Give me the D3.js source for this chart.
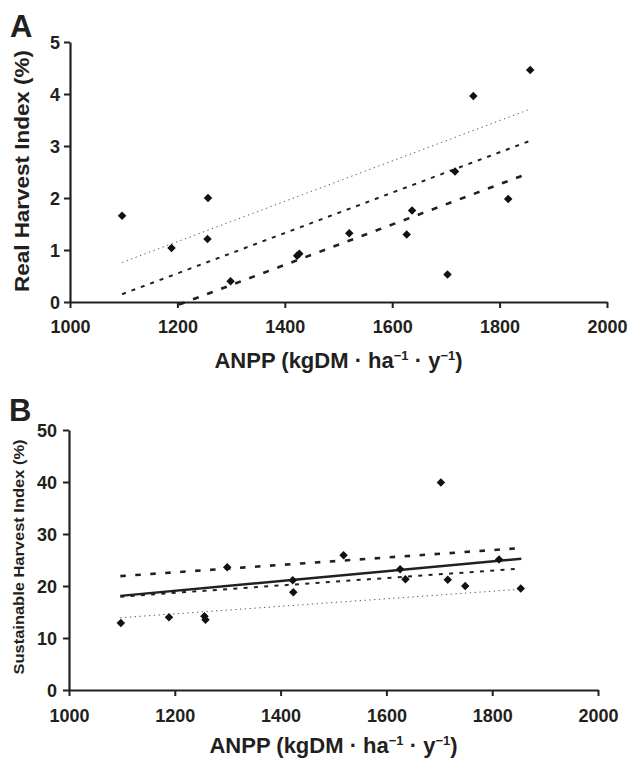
<!DOCTYPE html>
<html>
<head>
<meta charset="utf-8">
<script src="https://cdn.jsdelivr.net/npm/d3@7"></script>
<style>
  html, body { margin: 0; padding: 0; background: #fff; }
  svg { display: block; }
  text { font-family: "Liberation Sans", Arial, Helvetica, sans-serif; font-weight: bold; fill: #231f20; }
</style>
</head>
<body>
<script>
// ---------- DATA ----------
const xTicks = [1000, 1200, 1400, 1600, 1800, 2000];
const yTicksA = [0, 1, 2, 3, 4, 5];
const yTicksB = [0, 10, 20, 30, 40, 50];

// Panel A: Real Harvest Index (%)
const anppA = [1097, 1189, 1257, 1256, 1299, 1423, 1427, 1520, 1627, 1637, 1703, 1717, 1751, 1816, 1857];
const rhiA  = [1.66, 1.04, 2.00, 1.21, 0.40, 0.89, 0.93, 1.32, 1.30, 1.76, 0.53, 2.51, 3.96, 1.98, 4.46];

// Panel A fitted lines (endpoints)
const lineAdottedX = [1097, 1857], lineAdottedY = [0.76, 3.71];
const lineAshortX  = [1097, 1857], lineAshortY  = [0.15, 3.10];
const lineAlongX   = [1203, 1845], lineAlongY   = [-0.05, 2.44];

// Panel B: Sustainable Harvest Index (%)
const anppB = [1098, 1189, 1256, 1258, 1299, 1423, 1424, 1519, 1626, 1636, 1703, 1716, 1749, 1813, 1854];
const shiB  = [12.9, 14.0, 14.2, 13.5, 23.6, 21.1, 18.8, 25.9, 23.2, 21.3, 39.9, 21.2, 20.0, 25.1, 19.5];

// Panel B fitted lines (endpoints)
const lineBlongX   = [1097, 1849], lineBlongY   = [21.9, 27.25];
const lineBsolidX  = [1097, 1855], lineBsolidY  = [18.1, 25.25];
const lineBshortX  = [1097, 1848], lineBshortY  = [17.95, 23.3];
const lineBdottedX = [1097, 1856], lineBdottedY = [13.9, 19.4];

// ---------- DRAW ----------
const ink = "#231f20";
const svg = d3.select("body").append("svg").attr("width", 629).attr("height", 758);

function pts(xs, ys) { return xs.map((x, i) => [x, ys[i]]); }

function panel(cfg) {
  const x = d3.scaleLinear().domain([xTicks[0], xTicks[xTicks.length - 1]]).range([cfg.left, cfg.right]);
  const y = d3.scaleLinear().domain([cfg.yTicks[0], cfg.yTicks[cfg.yTicks.length - 1]]).range([cfg.bottom, cfg.top]);
  const g = svg.append("g");

  // axes
  const ax = g.append("g").attr("transform", `translate(0,${cfg.bottom})`)
    .call(d3.axisBottom(x).tickValues(xTicks).tickFormat(d3.format("d")).tickSizeInner(6).tickSizeOuter(0));
  ax.selectAll("text").attr("y", cfg.xLabelDy).attr("dy", 0).style("font-size", "18px").attr("fill", ink);
  const ay = g.append("g").attr("transform", `translate(${cfg.left},0)`)
    .call(d3.axisLeft(y).tickValues(cfg.yTicks).tickFormat(d3.format("d")).tickSizeInner(6).tickSizeOuter(0).tickPadding(cfg.yPad));
  ay.selectAll("text").attr("dy", "0.36em").style("font-size", "18px").attr("fill", ink);
  [ax, ay].forEach(a => {
    a.select(".domain").attr("stroke", ink).attr("stroke-width", 2.2);
    a.selectAll(".tick line").attr("stroke", ink).attr("stroke-width", 2);
  });

  // lines
  const line = d3.line().x(d => x(d[0])).y(d => y(d[1]));
  cfg.lines.forEach(l => {
    g.append("path").datum(pts(l.xs, l.ys)).attr("d", line)
      .attr("fill", "none").attr("stroke", l.color).attr("stroke-width", l.w)
      .attr("stroke-dasharray", l.dash || null);
  });

  // points
  const sym = d3.symbol().type(d3.symbolDiamond2).size(46);
  g.append("g").selectAll("path").data(pts(cfg.xs, cfg.ys)).join("path")
    .attr("d", sym).attr("transform", d => `translate(${x(d[0])},${y(d[1])})`)
    .attr("fill", "#111");

  // panel letter
  g.append("text").attr("x", cfg.letterX).attr("y", cfg.letterY).text(cfg.letter)
    .style("font-size", "31px");

  // y title
  g.append("text")
    .attr("transform", `translate(${cfg.yTitleX},${(cfg.top + cfg.bottom) / 2 + cfg.yTitleShift}) rotate(-90)`)
    .attr("text-anchor", "middle").style("font-size", cfg.yTitleSize + "px")
    .attr("textLength", cfg.yTitleLen).attr("lengthAdjust", "spacingAndGlyphs")
    .text(cfg.yTitle);

  // x title
  const xt = g.append("text").attr("x", (cfg.left + cfg.right) / 2).attr("y", cfg.xTitleY)
    .attr("text-anchor", "middle").style("font-size", "22px");
  xt.append("tspan").text("ANPP (kgDM · ha");
  xt.append("tspan").text("\u22121").style("font-size", "13px").attr("dy", -8);
  xt.append("tspan").text(" · y").attr("dy", 8);
  xt.append("tspan").text("\u22121").style("font-size", "13px").attr("dy", -8);
  xt.append("tspan").text(")").attr("dy", 8);
}

panel({
  left: 70, right: 607, top: 42, bottom: 302,
  yTicks: yTicksA, yPad: 4, xLabelDy: 31,
  xs: anppA, ys: rhiA,
  letter: "A", letterX: 10, letterY: 37,
  yTitle: "Real Harvest Index (%)", yTitleX: 29, yTitleShift: -1, yTitleSize: 20, yTitleLen: 242,
  xTitleY: 368,
  lines: [
    { xs: lineAdottedX, ys: lineAdottedY, color: "#555", w: 1, dash: "1.3,3.5" },
    { xs: lineAshortX,  ys: lineAshortY,  color: ink, w: 2, dash: "4,6" },
    { xs: lineAlongX,   ys: lineAlongY,   color: ink, w: 2.6, dash: "6,9" }
  ]
});

panel({
  left: 69, right: 598, top: 430, bottom: 690,
  yTicks: yTicksB, yPad: 6, xLabelDy: 32,
  xs: anppB, ys: shiB,
  letter: "B", letterX: 9, letterY: 421,
  yTitle: "Sustainable Harvest Index (%)", yTitleX: 24, yTitleShift: -3, yTitleSize: 14, yTitleLen: 235,
  xTitleY: 753,
  lines: [
    { xs: lineBdottedX, ys: lineBdottedY, color: "#555", w: 1, dash: "1.3,3.5" },
    { xs: lineBshortX,  ys: lineBshortY,  color: ink, w: 2, dash: "4,6.3" },
    { xs: lineBsolidX,  ys: lineBsolidY,  color: ink, w: 2.5 },
    { xs: lineBlongX,   ys: lineBlongY,   color: ink, w: 2.6, dash: "5.5,9.5" }
  ]
});
</script>
</body>
</html>
